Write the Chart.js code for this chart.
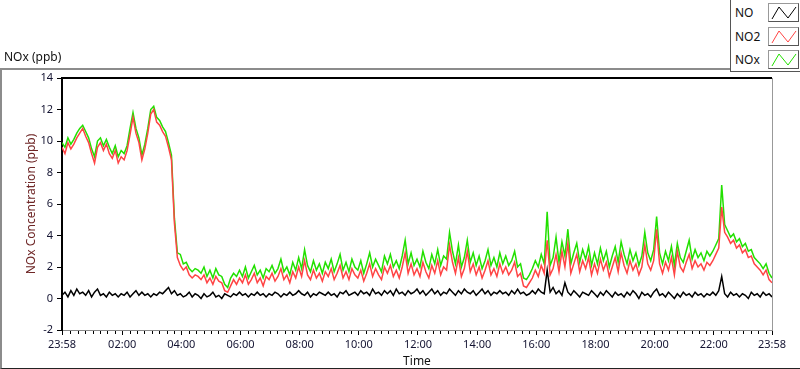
<!DOCTYPE html>
<html>
<head>
<meta charset="utf-8">
<script src="https://cdn.jsdelivr.net/npm/chart.js@4.4.1/dist/chart.umd.min.js"></script>
<style>
    html, body { margin: 0; padding: 0; background: #fff; }
    body { width: 800px; height: 369px; position: relative; overflow: hidden; font-family: 'Noto Sans', sans-serif; color: #111; }
    #panel { position: absolute; left: 0; top: 68px; width: 800px; height: 301px; box-sizing: border-box;
             border-top: 2px solid #8c8c8c; border-left: 2px solid #8c8c8c; border-bottom: 1px solid #222; }
    #chart { position: absolute; left: 0; top: 0; }
    #unit { position: absolute; left: 4px; top: 48px; font-size: 12px; }
    #legend { position: absolute; left: 730px; top: 0; width: 70px; height: 72px; box-sizing: border-box;
              border-left: 1px solid #555; border-bottom: 1px solid #555; background: #fff; }
    .lab { position: absolute; left: 4px; font-size: 12px; line-height: 14px; }
    .sw { position: absolute; left: 37px; width: 31px; height: 19px; box-sizing: border-box;
          border: 1px solid #555; border-top-color: #999; border-left-color: #999; background: #fff; }
    .sw svg { display: block; }
</style>
</head>
<body>
<div id="panel"></div>
<canvas id="chart" width="800" height="369"></canvas>
<div id="unit">NOx (ppb)</div>
<div id="legend"></div>
<script>
// 24 h record, one value every 6 min, starting 23:58
const STEP_MIN = 6;

const no = [
    0.2, 0.4, 0.1, 0.5, 0.2, 0.6, 0.3, 0.4, 0.2, 0.5,
    0.1, 0.4, 0.6, 0.2, 0.3, 0.1, 0.4, 0.2, 0.3, 0.1,
    0.3, 0.2, 0.4, 0.1, 0.3, 0.5, 0.2, 0.4, 0.2, 0.3,
    0.1, 0.3, 0.2, 0.4, 0.3, 0.5, 0.7, 0.3, 0.5, 0.2,
    0.3, 0.1, 0.2, 0.4, 0.1, 0.3, 0.2, 0.0, 0.3, 0.1,
    0.2, 0.4, 0.1, 0.2, 0.0, 0.3, 0.2, 0.1, 0.3, 0.2,
    0.4, 0.2, 0.3, 0.1, 0.3, 0.2, 0.4, 0.2, 0.3, 0.1,
    0.3, 0.2, 0.4, 0.3, 0.1, 0.3, 0.2, 0.4, 0.2, 0.3,
    0.5, 0.3, 0.2, 0.4, 0.1, 0.3, 0.2, 0.4, 0.3, 0.2,
    0.4, 0.2, 0.3, 0.1, 0.4, 0.3, 0.5, 0.2, 0.3, 0.4,
    0.2, 0.5, 0.3, 0.4, 0.2, 0.6, 0.3, 0.4, 0.2, 0.5,
    0.3, 0.5, 0.2, 0.6, 0.3, 0.4, 0.2, 0.5, 0.3, 0.4,
    0.6, 0.3, 0.5, 0.2, 0.4, 0.6, 0.3, 0.5, 0.2, 0.4,
    0.3, 0.6, 0.4, 0.2, 0.5, 0.3, 0.6, 0.4, 0.3, 0.5,
    0.2, 0.4, 0.6, 0.3, 0.5, 0.2, 0.4, 0.3, 0.5, 0.3,
    0.4, 0.2, 0.5, 0.3, 0.6, 0.3, 0.4, 0.2, 0.3, 0.5,
    0.3, 0.6, 0.4, 0.3, 1.8, 0.4, 0.7, 0.3, 0.5, 0.2,
    1.0, 0.4, 0.2, 0.5, 0.3, 0.1, 0.4, 0.3, 0.2, 0.5,
    0.3, 0.1, 0.4, 0.2, 0.5, 0.3, 0.1, 0.4, 0.2, 0.3,
    0.1, 0.4, 0.2, 0.5, 0.3, 0.0, 0.4, 0.2, 0.3, 0.1,
    0.4, 0.6, 0.2, 0.3, 0.1, 0.4, 0.2, 0.0, 0.3, 0.1,
    0.4, 0.2, 0.3, 0.1, 0.4, 0.2, 0.3, 0.1, 0.3, 0.2,
    0.4, 0.2, 0.5, 1.4, 0.3, 0.1, 0.4, 0.2, 0.3, 0.1,
    0.3, 0.2, 0.0, 0.4, 0.2, 0.3, 0.1, 0.4, 0.2, 0.3, 0.1
];

const no2 = [
    9.6, 9.2, 9.9, 9.5, 9.8, 10.2, 10.5, 10.8, 10.3, 9.9,
    9.2, 8.6, 9.6, 9.9, 9.4, 9.8, 9.2, 8.9, 9.4, 8.6,
    9.0, 8.8, 9.4, 10.4, 11.5, 10.5, 9.9, 8.8, 9.5, 10.5,
    11.7, 12.0, 11.2, 11.0, 10.6, 10.3, 9.6, 8.8, 4.8, 2.6,
    2.1, 1.8, 2.0, 1.5, 1.3, 1.5, 1.4, 1.2, 1.5, 1.0,
    1.3, 0.9, 1.4, 1.1, 1.0, 0.5, 0.4, 0.8, 1.2, 0.9,
    1.3, 1.0, 1.5, 0.9, 1.2, 1.6, 1.0, 1.3, 0.8, 1.4,
    1.2, 1.6, 1.1, 1.4, 1.9, 1.2, 1.5, 1.0, 1.7, 1.3,
    2.0, 1.4, 2.4, 1.5, 1.2, 1.8, 1.3, 1.6, 1.1, 1.7,
    1.4, 1.9, 1.2, 1.6, 2.1, 1.3, 1.7, 1.2, 1.9, 1.5,
    1.3, 1.8, 1.1, 1.6, 2.2, 1.4, 1.9, 1.5, 1.2, 2.0,
    1.6, 2.1, 1.4, 1.8, 1.3, 2.0, 2.9, 1.6, 2.2, 1.5,
    1.9, 1.4, 2.3, 1.7, 1.3, 2.1, 1.6, 2.4, 1.5, 2.0,
    1.8, 3.4, 2.3, 1.6, 2.6, 1.4, 1.9, 3.0, 1.7, 2.2,
    1.5, 2.0, 1.3, 1.8, 2.4, 1.5, 1.9, 1.4, 2.2, 1.6,
    2.0, 1.5, 1.8, 2.3, 1.4, 1.6, 0.8, 0.7, 1.0, 1.3,
    1.8, 1.4, 2.1, 1.6, 3.7, 1.5, 1.9, 2.8, 1.7, 3.0,
    2.0, 3.5, 1.6, 2.2, 2.8, 1.7, 2.4, 1.9, 2.6, 1.5,
    2.2, 1.6, 2.5, 1.8, 2.3, 1.4, 2.0, 2.6, 1.7, 2.9,
    2.1, 1.6, 2.4, 1.8, 2.2, 1.5, 2.0, 3.4, 2.2, 1.8,
    2.4, 4.4, 2.2, 1.6, 2.3, 1.8, 2.6, 1.5, 3.0, 2.0,
    1.7, 2.3, 2.8, 1.9, 2.4, 2.0, 2.2, 1.8, 2.3, 2.1,
    2.4, 2.8, 3.2, 5.8, 4.2, 3.9, 3.5, 3.7, 3.2, 3.4,
    2.9, 3.1, 2.6, 2.7, 2.2, 2.0, 1.8, 1.5, 1.8, 1.2, 1.0
];

const nox = [
    9.9, 9.6, 10.2, 9.8, 10.1, 10.5, 10.8, 11.0, 10.6, 10.2,
    9.5, 9.0, 10.0, 10.2, 9.7, 10.1, 9.6, 9.2, 9.7, 9.0,
    9.4, 9.2, 9.7, 10.8, 11.8, 10.8, 10.2, 9.1, 9.8, 10.8,
    12.0, 12.2, 11.5, 11.3, 10.9, 10.6, 9.9, 9.1, 5.1, 2.9,
    2.8, 2.2, 2.3, 1.9, 1.7, 1.9, 1.8, 1.6, 2.0, 1.4,
    1.8, 1.3, 1.9, 1.5, 1.4, 0.9, 0.7, 1.3, 1.6, 1.4,
    1.8, 1.4, 2.0, 1.3, 1.7, 2.1, 1.5, 1.8, 1.3, 1.9,
    1.7, 2.1, 1.6, 1.9, 2.5, 1.7, 2.0, 1.5, 2.3, 1.8,
    2.6, 1.9, 3.1, 2.1, 1.7, 2.4, 1.8, 2.2, 1.6, 2.3,
    1.9, 2.5, 1.7, 2.2, 2.8, 1.8, 2.3, 1.7, 2.5, 2.0,
    1.8, 2.4, 1.6, 2.2, 2.9, 2.0, 2.5, 2.1, 1.7, 2.7,
    2.2, 2.8, 2.0, 2.4, 1.9, 2.7, 3.7, 2.2, 2.9, 2.1,
    2.5, 2.0, 3.0, 2.3, 1.9, 2.8, 2.2, 3.1, 2.1, 2.7,
    2.5, 4.2, 3.0, 2.2, 3.4, 2.0, 2.6, 3.7, 2.3, 2.9,
    2.1, 2.7, 1.9, 2.4, 3.1, 2.1, 2.6, 2.0, 2.9, 2.2,
    2.7, 2.1, 2.4, 3.0, 2.0, 2.2, 1.3, 1.2, 1.5, 1.9,
    2.4, 2.0, 2.8, 2.2, 5.5, 2.1, 2.6, 3.9, 2.3, 3.6,
    2.7, 4.4, 2.2, 2.9, 3.5, 2.3, 3.1, 2.5, 3.3, 2.1,
    2.9, 2.2, 3.2, 2.4, 3.0, 2.0, 2.7, 3.3, 2.3, 3.6,
    2.8, 2.2, 3.1, 2.4, 2.9, 2.1, 2.7, 4.2, 2.9, 2.4,
    3.1, 5.2, 2.9, 2.2, 3.0, 2.4, 3.3, 2.1, 3.5, 2.6,
    2.3, 3.0, 3.7, 2.5, 3.1, 2.6, 2.9, 2.4, 3.0, 2.7,
    3.0, 3.4, 3.8, 7.2, 4.7, 4.3, 3.9, 4.1, 3.6, 3.8,
    3.3, 3.5, 3.0, 3.1, 2.6, 2.4, 2.2, 1.9, 2.2, 1.6, 1.3
];

// minutes after 23:58 for the hour labels
const timeTicks = [0, 122, 242, 362, 482, 602, 722, 842, 962, 1082, 1202, 1322, 1440];
const timeLabels = ['23:58', '02:00', '04:00', '06:00', '08:00', '10:00', '12:00',
                    '14:00', '16:00', '18:00', '20:00', '22:00', '23:58'];
const yTicks = [-2, 0, 2, 4, 6, 8, 10, 12, 14];

const seriesNames = ['NO', 'NO2', 'NOx'];
const seriesColors = ['#000000', '#ff4444', '#22e000'];

const toPoints = arr => arr.map((v, i) => ({ x: i * STEP_MIN, y: v }));

// legend (LabVIEW style plot legend)
const legend = document.getElementById('legend');
seriesNames.forEach((name, i) => {
    const top = 3 + i * 23.5;
    legend.insertAdjacentHTML('beforeend',
        `<div class="lab" style="top:${top + 3}px">${name}</div>` +
        `<div class="sw" style="top:${top}px"><svg width="29" height="17">` +
        `<polyline points="3,15 10,3 19,14 27,3" fill="none" stroke="${seriesColors[i]}" stroke-width="1"/></svg></div>`);
});

const framePlugin = {
    id: 'frame',
    afterDraw(chart) {
        const { ctx, chartArea: a, scales: { x } } = chart;
        ctx.save();
        // quarter-hour minor ticks
        ctx.strokeStyle = '#000';
        ctx.lineWidth = 1;
        for (let m = 17; m < 1440; m += 15) {
            if (timeTicks.includes(m)) continue;
            const px = Math.round(x.getPixelForValue(m)) + 0.5;
            ctx.beginPath();
            ctx.moveTo(px, a.bottom + 1);
            ctx.lineTo(px, a.bottom + 4);
            ctx.stroke();
        }
        ctx.lineWidth = 2;
        ctx.beginPath();
        ctx.moveTo(a.left, a.top);
        ctx.lineTo(a.right, a.top);
        ctx.stroke();
        ctx.strokeStyle = '#999';
        ctx.lineWidth = 1;
        ctx.beginPath();
        ctx.moveTo(a.right + 0.5, a.top);
        ctx.lineTo(a.right + 0.5, a.bottom);
        ctx.stroke();
        ctx.restore();
    }
};

const tickFont = { family: "'Noto Sans', sans-serif", size: 11 };

new Chart(document.getElementById('chart'), {
    type: 'line',
    data: {
        datasets: [
            { label: 'NO', data: toPoints(no), borderColor: seriesColors[0], order: 0 },
            { label: 'NO2', data: toPoints(no2), borderColor: seriesColors[1], order: 1 },
            { label: 'NOx', data: toPoints(nox), borderColor: seriesColors[2], order: 2 }
        ]
    },
    options: {
        responsive: false,
        animation: false,
        events: [],
        layout: { padding: { top: 78, right: 28, left: 0, bottom: 0 } },
        elements: {
            point: { radius: 0 },
            line: { borderWidth: 1.5, tension: 0 }
        },
        plugins: { legend: { display: false }, tooltip: { enabled: false } },
        scales: {
            x: {
                type: 'linear',
                min: 0,
                max: 1440,
                afterFit: s => { s.height = 39; },
                afterBuildTicks: s => { s.ticks = timeTicks.map(v => ({ value: v })); },
                ticks: {
                    autoSkip: false,
                    maxRotation: 0,
                    padding: 3,
                    color: '#141432',
                    font: tickFont,
                    callback: (v, i) => timeLabels[i]
                },
                grid: { drawOnChartArea: false, tickLength: 5, color: '#000' },
                border: { color: '#8a8a8a', width: 1 },
                title: {
                    display: true,
                    text: 'Time',
                    color: '#111',
                    font: { family: "'Noto Sans', sans-serif", size: 12 },
                    padding: { top: 0, bottom: 0 }
                }
            },
            y: {
                min: -2,
                max: 14,
                afterFit: s => { s.width = 62; },
                afterBuildTicks: s => { s.ticks = yTicks.map(v => ({ value: v })); },
                ticks: { padding: 4, color: '#141432', font: tickFont },
                grid: { drawOnChartArea: false, tickLength: 5, color: '#000' },
                border: { color: '#000', width: 2 },
                title: {
                    display: true,
                    text: 'NOx Concentration (ppb)',
                    color: '#6e2626',
                    font: { family: "'Noto Sans', sans-serif", size: 12 },
                    padding: { top: 24, bottom: 0 }
                }
            }
        }
    },
    plugins: [framePlugin]
});
</script>
</body>
</html>
